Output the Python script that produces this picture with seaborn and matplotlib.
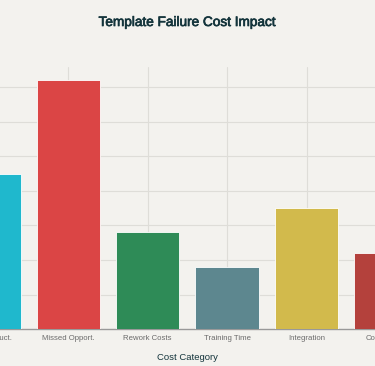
import matplotlib
matplotlib.use("Agg")
import matplotlib.pyplot as plt
import matplotlib.patheffects as pe
import seaborn as sns
import pandas as pd

categories = ["Lost Product.", "Missed Opport.", "Rework Costs", "Training Time", "Integration", "Compliance"]
values = [45, 72, 28, 18, 35, 22]
colors = ["#1FB8CD", "#DB4545", "#2E8B57", "#5D878F", "#D2BA4C", "#B4413C"]

df = pd.DataFrame({"Category": categories, "Cost": values})

sns.set_theme(style="whitegrid")
plt.rcParams["font.family"] = ["Liberation Sans", "DejaVu Sans"]

bg = "#F3F2EE"
fig = plt.figure(figsize=(3.75, 3.66), dpi=100, facecolor=bg)
W, H = 375, 366
left_px, right_px = -50.8, 425.6
top_px, bottom_px = 67, 329.3
ax = fig.add_axes([left_px / W, 1 - bottom_px / H, (right_px - left_px) / W, (bottom_px - top_px) / H])
ax.set_facecolor(bg)

sns.barplot(data=df, x="Category", y="Cost", hue="Category", palette=colors,
            legend=False, width=0.8, saturation=1, edgecolor="white", linewidth=0.6,
            ax=ax, zorder=3)

ax.set_xlim(-0.5, 5.5)
ax.set_ylim(0, 75.8)
ax.set_yticks([10, 20, 30, 40, 50, 60, 70])
ax.set_yticklabels([])
ax.tick_params(axis="y", length=0)
ax.tick_params(axis="x", length=0, labelsize=5.6, labelcolor="#6b6b6b", pad=4)
ax.grid(True, color="#DEDDD8", linewidth=0.8)
ax.set_axisbelow(True)
for s in ["top", "right", "left"]:
    ax.spines[s].set_visible(False)
ax.spines["bottom"].set_color("#999999")
ax.spines["bottom"].set_linewidth(1.0)

ax.set_ylabel("")
ax.set_xlabel("Cost Category", fontsize=6.8, color="#13343B", labelpad=8)

fig.text(0.5, 1 - 22 / H, "Template Failure Cost Impact", ha="center", va="center",
         fontsize=9.8, color="#13343B",
         path_effects=[pe.withStroke(linewidth=0.5, foreground="#13343B")])

fig.savefig("out.png", dpi=100, facecolor=bg)
